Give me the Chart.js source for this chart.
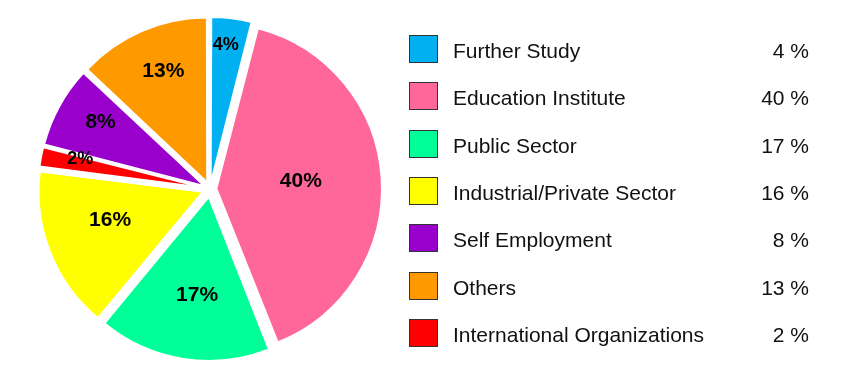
<!DOCTYPE html>
<html>
<head>
<meta charset="utf-8">
<script src="https://cdn.jsdelivr.net/npm/chart.js@4.4.1/dist/chart.umd.min.js"></script>
<style>
  body { margin: 0; background: #fff; font-family: "Liberation Sans", Arial, sans-serif; }
  #wrap { position: relative; width: 844px; height: 375px; }
  #legend { position: absolute; left: 0; top: 0; width: 844px; height: 375px; pointer-events: none; }
  .row { position: absolute; left: 409px; width: 400px; height: 29px; }
  .box { position: absolute; left: 0; top: 0; width: 27px; height: 26px; border: 1.5px solid #333; }
  .name { position: absolute; left: 44px; top: 1px; line-height: 29px; font-size: 21px; color: #111; white-space: nowrap; }
  .pct { position: absolute; right: 0; top: 1px; line-height: 29px; font-size: 21px; color: #111; white-space: nowrap; }
</style>
</head>
<body>
<div id="wrap">
  <canvas id="pieChart"></canvas>
  <div id="legend"></div>
</div>
<script>
// Categorias na ordem da legenda
const categories = ['Further Study', 'Education Institute', 'Public Sector', 'Industrial/Private Sector',
                    'Self Employment', 'Others', 'International Organizations'];
const shares = [4, 40, 17, 16, 8, 13, 2];
const colours = ['#00B0F0', '#FF6699', '#00FF99', '#FFFF00', '#9900CC', '#FF9900', '#FF0000'];
// Ordem das fatias no sentido horário a partir do topo
const pieOrder = [0, 1, 2, 3, 6, 4, 5];
// Posição do rótulo por fatia: fração do raio e pequeno giro (graus)
const labelRadius = [0.895, 0.56, 0.65, 0.64, 0.82, 0.79, 0.785];
const labelTurn = [-1, -2, -2, 5, 3, 3, 2];

// Deslocamento desejado de cada fatia (px); o Chart.js divide o offset por 4 e corrige pelo ângulo
const explode = 9;
function sliceOffset(c) {
    const v = c.dataset.data[c.dataIndex];
    const total = c.dataset.data.reduce((a, b) => a + b, 0);
    const circ = v / total * Math.PI * 2;
    const fix = 1 - Math.sin(Math.min(Math.PI, circ));
    return explode * 4 / (1 + fix);
}

const sliceLabels = {
    id: 'sliceLabels',
    afterDatasetsDraw(chart) {
        const ctx = chart.ctx;
        const meta = chart.getDatasetMeta(0);
        const values = chart.data.datasets[0].data;
        ctx.save();
        ctx.fillStyle = '#000';
        ctx.textAlign = 'center';
        ctx.textBaseline = 'middle';
        meta.data.forEach((arc, i) => {
            const p = arc.getProps(['x', 'y', 'startAngle', 'endAngle', 'outerRadius'], true);
            const ang = (p.startAngle + p.endAngle) / 2 + labelTurn[i] * Math.PI / 180;
            const r = p.outerRadius * labelRadius[i];
            const size = values[i] < 5 ? 18 : 21;
            ctx.font = 'bold ' + size + 'px "Liberation Sans", Arial, sans-serif';
            // +1.5 para centrar visualmente os algarismos
            ctx.fillText(values[i] + '%', p.x + Math.cos(ang) * r, p.y + Math.sin(ang) * r + 1.5);
        });
        ctx.restore();
    }
};

const ctx = document.getElementById('pieChart').getContext('2d');
new Chart(ctx, {
    type: 'pie',
    data: {
        labels: pieOrder.map(i => categories[i]),
        datasets: [{
            data: pieOrder.map(i => shares[i]),
            backgroundColor: pieOrder.map(i => colours[i]),
            borderColor: '#fff',
            borderWidth: 2,
            offset: sliceOffset,
            hoverOffset: 0
        }]
    },
    options: {
        responsive: true,
        maintainAspectRatio: false,
        animation: false,
        layout: { padding: { left: 30, right: 454, top: 9, bottom: 6 } },
        plugins: {
            legend: { display: false },
            tooltip: { enabled: false }
        }
    },
    plugins: [sliceLabels]
});

// Legenda em HTML
const legend = document.getElementById('legend');
categories.forEach((name, i) => {
    const row = document.createElement('div');
    row.className = 'row';
    row.style.top = (35 + i * 47.33) + 'px';
    row.innerHTML = '<div class="box" style="background:' + colours[i] + '"></div>' +
                    '<div class="name">' + name + '</div>' +
                    '<div class="pct">' + shares[i] + ' %</div>';
    legend.appendChild(row);
});
</script>
</body>
</html>
